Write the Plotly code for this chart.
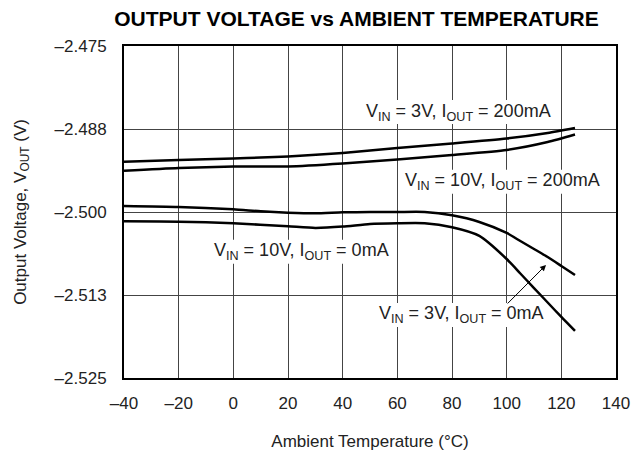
import plotly.graph_objects as go

# ---------------------------------------------------------------- #
# data
temp_3v_200 = [-40, -20, 0, 10, 20, 40, 60, 80, 100, 115, 125]
vout_3v_200 = [-2.49242, -2.49217, -2.49194, -2.49179, -2.49164, -2.49111,
               -2.49036, -2.48968, -2.48893, -2.48810, -2.48735]

temp_10v_200 = [-40, -20, 0, 20, 40, 60, 80, 100, 115, 125]
vout_10v_200 = [-2.49378, -2.49337, -2.49315, -2.49315, -2.49270, -2.49209,
                -2.49142, -2.49066, -2.48946, -2.48833]

temp_3v_0 = [-40, -20, 0, 10, 20, 30, 40, 50, 60, 70, 80, 90, 100, 105, 110, 115, 120, 125]
vout_3v_0 = [-2.49910, -2.49925, -2.49960, -2.49990, -2.50010, -2.50020, -2.50005, -2.50000,
             -2.50000, -2.50000, -2.50050, -2.50150, -2.50316, -2.50437, -2.50557, -2.50678,
             -2.50813, -2.50949]

temp_10v_0 = [-40, -20, 0, 20, 30, 40, 50, 60, 70, 80, 90, 100, 105, 110, 115, 120, 125]
vout_10v_0 = [-2.50140, -2.50145, -2.50170, -2.50215, -2.50240, -2.50220, -2.50180, -2.50170,
              -2.50170, -2.50230, -2.50360, -2.50708, -2.50926, -2.51145, -2.51363, -2.51581,
              -2.51792]

x_ticks = [-40, -20, 0, 20, 40, 60, 80, 100, 120, 140]
x_tick_labels = ['–40', '–20', '0', '20', '40', '60', '80', '100', '120', '140']
y_ticks = [-2.525, -2.5125, -2.5, -2.4875, -2.475]
y_tick_labels = ['–2.525', '–2.513', '–2.500', '–2.488', '–2.475']

label_texts = ['V<sub>IN</sub> = 3V, I<sub>OUT</sub> = 200mA',
               'V<sub>IN</sub> = 10V, I<sub>OUT</sub> = 200mA',
               'V<sub>IN</sub> = 10V, I<sub>OUT</sub> = 0mA',
               'V<sub>IN</sub> = 3V, I<sub>OUT</sub> = 0mA']
label_temp = [82.2, 98.3, 25.1, 83.3]
label_vout = [-2.48494, -2.49544, -2.50598, -2.51551]

# ---------------------------------------------------------------- #
FAMILY = 'Liberation Sans, Arial, sans-serif'
font = dict(family=FAMILY, size=17, color='#222')

fig = go.Figure()
for tx, vy in [(temp_3v_200, vout_3v_200), (temp_10v_200, vout_10v_200),
               (temp_3v_0, vout_3v_0), (temp_10v_0, vout_10v_0)]:
    fig.add_trace(go.Scatter(
        x=tx, y=vy, mode='lines',
        line=dict(color='black', width=2.5, shape='spline', smoothing=0.6),
        showlegend=False, hoverinfo='skip'
    ))

# labels: white patch between the grid and the curves, then the text
half_w = [97, 104, 91, 87]
for lx, ly, txt, hw in zip(label_temp, label_vout, label_texts, half_w):
    fig.add_shape(
        type='rect', layer='between', line_width=0, fillcolor='white',
        xref='x', yref='y', xsizemode='pixel', ysizemode='pixel',
        xanchor=lx, yanchor=ly, x0=-hw, x1=hw, y0=-12, y1=12
    )
    fig.add_annotation(x=lx, y=ly, text=txt, showarrow=False,
                       font=dict(family=FAMILY, size=18, color='#222'))

# arrow pointing at the 3V / 0mA curve
fig.add_annotation(
    x=114.4, y=-2.50798, ax=99.8, ay=-2.5140,
    xref='x', yref='y', axref='x', ayref='y',
    text='', showarrow=True, arrowhead=2, arrowsize=1.2, arrowwidth=1, arrowcolor='black'
)

# the page body has an 8px margin, so the figure is a bit smaller than the window
fig.update_layout(
    width=635, height=445,
    margin=dict(l=116, r=27, t=38, b=75),
    paper_bgcolor='white', plot_bgcolor='white',
    font=font,
    title=dict(
        text='<b>OUTPUT VOLTAGE vs AMBIENT TEMPERATURE</b>',
        xref='paper', x=0.4726, xanchor='center',
        yref='container', y=1 - 11 / 445, yanchor='middle',
        font=dict(family=FAMILY, size=21, color='black')
    ),
)
fig.update_xaxes(
    range=[-40, 140], tickvals=x_ticks, ticktext=x_tick_labels,
    showgrid=True, gridcolor='#444', gridwidth=1,
    showline=True, linecolor='black', linewidth=2, mirror=True,
    ticks='', ticklabelstandoff=9, zeroline=False, automargin=False,
    title=dict(text='Ambient Temperature (°C)', standoff=23, font=font)
)
fig.update_yaxes(
    range=[-2.525, -2.475], tickvals=y_ticks, ticktext=y_tick_labels,
    showgrid=True, gridcolor='#444', gridwidth=1,
    showline=True, linecolor='black', linewidth=2, mirror=True,
    ticks='', ticklabelstandoff=12, zeroline=False, automargin=False,
    title=dict(text='Output Voltage, V<sub>OUT</sub> (V)', standoff=24, font=font)
)

fig.write_html('out.html')
